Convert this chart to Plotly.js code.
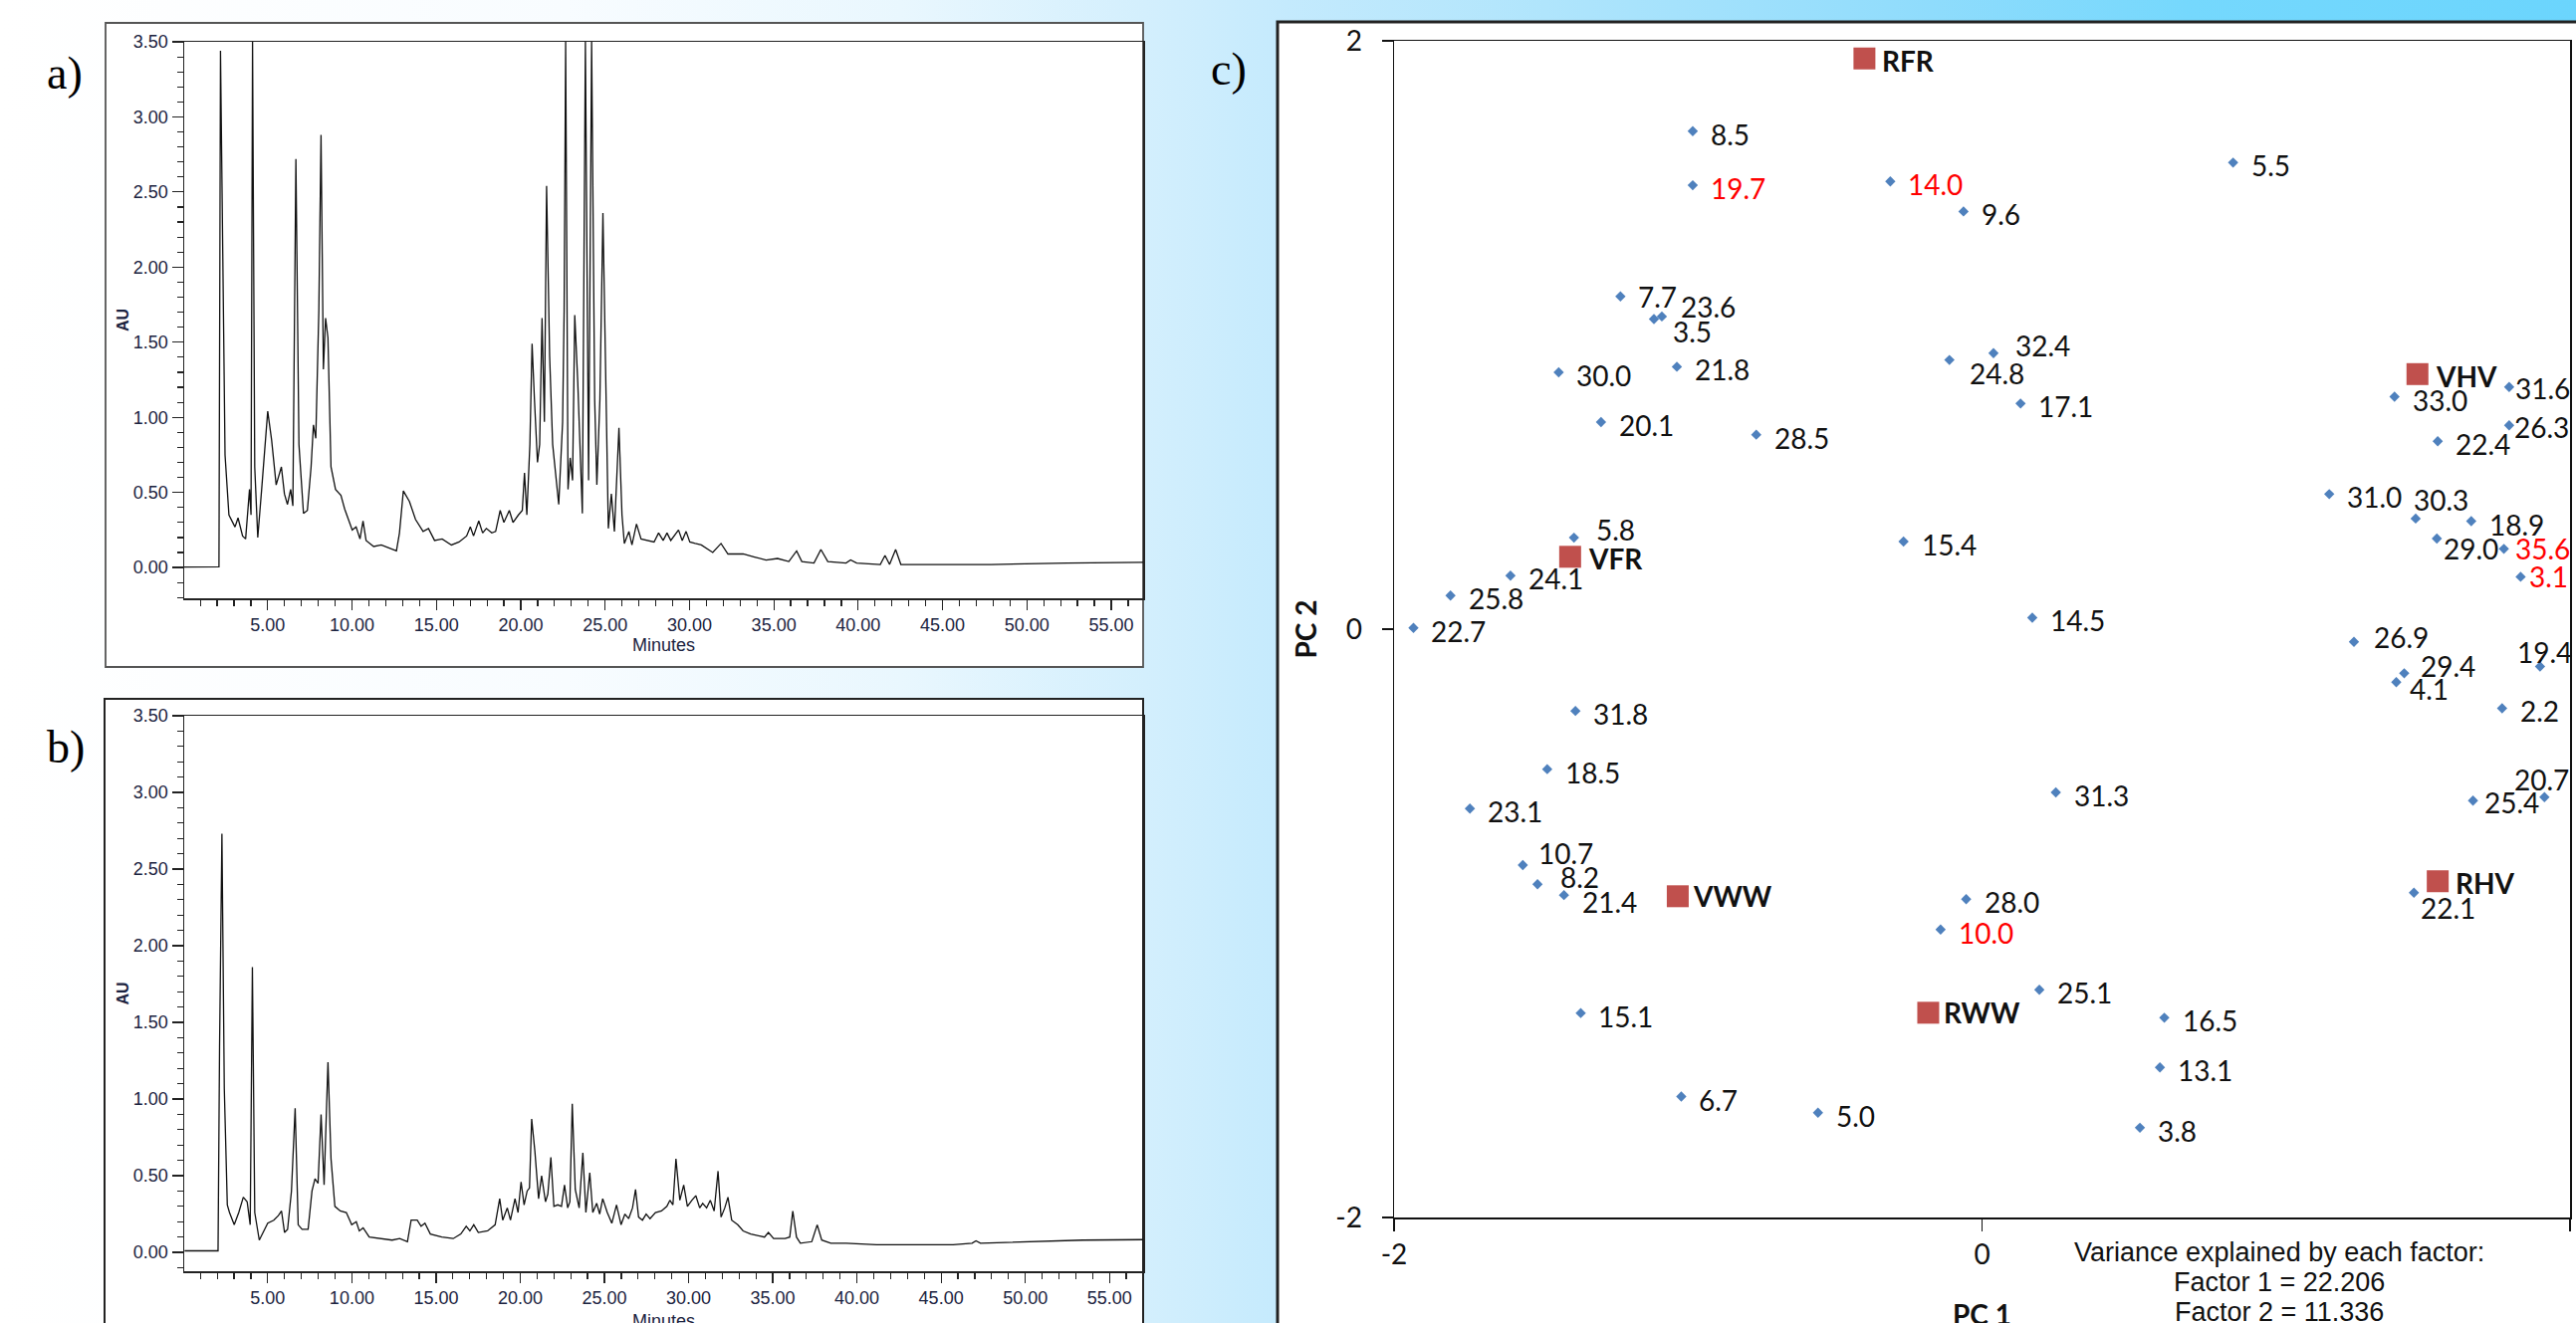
<!DOCTYPE html>
<html><head><meta charset="utf-8">
<script src="https://cdn.plot.ly/plotly-3.0.1.min.js"></script>
<style>
html,body{margin:0;padding:0;overflow:hidden;}
body{width:2587px;height:1329px;background:linear-gradient(to right,#ffffff 0%,#f8fcff 22%,#e9f7fe 35%,#d3effd 44.5%,#c4eafd 50%,#b0e5fc 60%,#8fdcfc 75%,#75d8fd 85%,#6bd5fd 100%);}
#chart{width:2587px;height:1329px;}
</style></head><body><div id="chart"></div><script>
// ---------- DATA ----------
// Chromatogram a) : retention time (min) and absorbance (AU)
const chromATime = [0.05,2.11,2.20,2.34,2.47,2.70,3.06,3.24,3.51,3.69,3.92,4.01,4.10,4.23,4.41,4.64,5.00,5.23,5.50,5.81,5.99,6.17,6.36,6.49,6.67,6.85,7.12,7.35,7.57,7.71,7.85,8.03,8.16,8.30,8.43,8.57,8.75,9.02,9.34,9.56,9.79,10.01,10.24,10.47,10.65,10.83,11.28,11.73,12.18,12.63,12.81,13.04,13.40,13.76,14.21,14.53,14.89,15.34,15.89,16.34,16.79,17.01,17.20,17.51,17.74,17.96,18.28,18.51,18.78,19.00,19.32,19.54,19.86,20.09,20.22,20.36,20.54,20.67,20.81,20.99,21.12,21.26,21.40,21.53,21.71,21.89,22.25,22.48,22.57,22.66,22.80,22.93,23.07,23.20,23.38,23.65,23.83,24.02,24.20,24.38,24.51,24.69,24.87,25.05,25.19,25.37,25.55,25.82,26.00,26.14,26.41,26.59,26.86,27.13,27.54,27.90,28.17,28.44,28.67,28.89,29.35,29.57,29.80,30.02,30.34,30.70,31.38,31.87,32.28,33.18,33.86,34.54,35.22,35.89,36.35,36.66,37.38,37.79,38.20,39.28,39.55,39.91,41.31,41.59,41.86,42.22,42.53,47.86,52.38,56.90];
const chromAAU = [0.003,0.005,3.44,1.86,0.75,0.35,0.27,0.33,0.21,0.19,0.52,0.35,3.5,0.67,0.20,0.52,1.04,0.85,0.55,0.67,0.49,0.42,0.52,0.41,2.72,0.82,0.36,0.38,0.67,0.95,0.86,1.71,2.88,1.32,1.66,1.53,0.67,0.52,0.48,0.39,0.32,0.25,0.27,0.19,0.31,0.18,0.14,0.15,0.13,0.11,0.23,0.51,0.44,0.32,0.24,0.26,0.18,0.19,0.15,0.17,0.21,0.27,0.21,0.31,0.23,0.26,0.23,0.24,0.38,0.30,0.38,0.30,0.35,0.38,0.63,0.35,0.82,1.49,1.12,0.70,0.82,1.66,0.97,2.54,1.41,0.82,0.42,0.97,1.71,3.5,0.52,0.73,0.58,1.68,1.23,0.36,3.5,0.58,3.5,1.12,0.55,1.12,2.36,1.12,0.26,0.49,0.24,0.93,0.35,0.16,0.24,0.15,0.29,0.19,0.18,0.17,0.23,0.18,0.23,0.18,0.25,0.18,0.24,0.17,0.16,0.15,0.10,0.16,0.09,0.09,0.07,0.05,0.06,0.04,0.11,0.04,0.03,0.12,0.04,0.03,0.05,0.03,0.02,0.08,0.02,0.12,0.02,0.02,0.03,0.035];

// Chromatogram b)
const chromBTime = [0.06,2.05,2.14,2.28,2.42,2.60,2.73,3.01,3.28,3.55,3.78,3.96,4.09,4.23,4.50,4.73,5.00,5.36,5.63,5.82,6.00,6.18,6.41,6.63,6.81,7.04,7.40,7.63,7.81,7.99,8.17,8.35,8.58,8.76,8.99,9.31,9.67,9.99,10.26,10.44,10.67,11.03,11.71,12.39,12.84,13.30,13.52,13.88,14.11,14.34,14.66,15.34,16.02,16.47,16.79,17.01,17.24,17.51,18.06,18.51,18.78,18.96,19.23,19.42,19.69,19.87,20.05,20.23,20.41,20.55,20.68,20.87,21.09,21.27,21.50,21.64,21.82,22.00,22.23,22.45,22.63,22.82,22.95,23.09,23.27,23.50,23.72,23.90,24.13,24.31,24.54,24.72,24.90,25.17,25.44,25.72,25.99,26.22,26.44,26.67,26.85,27.03,27.26,27.48,27.71,28.03,28.39,28.71,28.89,29.07,29.25,29.48,29.71,29.93,30.20,30.43,30.66,30.84,31.07,31.29,31.52,31.75,31.93,32.15,32.34,32.56,32.92,33.24,33.69,34.15,34.51,34.74,35.05,35.73,36.01,36.19,36.41,36.64,37.32,37.64,37.91,38.45,39.36,41.17,43.44,45.71,46.84,47.07,47.34,50.24,53.41,57.0];
const chromBAU = [0.01,0.01,1.34,2.73,1.07,0.31,0.26,0.18,0.26,0.36,0.33,0.18,1.86,0.26,0.08,0.13,0.19,0.21,0.24,0.27,0.13,0.15,0.40,0.94,0.18,0.15,0.15,0.40,0.48,0.45,0.90,0.44,1.24,0.61,0.30,0.27,0.26,0.18,0.20,0.14,0.16,0.10,0.09,0.08,0.09,0.07,0.21,0.21,0.17,0.19,0.12,0.10,0.09,0.12,0.17,0.14,0.18,0.13,0.14,0.18,0.35,0.21,0.29,0.21,0.35,0.26,0.46,0.31,0.40,0.42,0.87,0.66,0.35,0.50,0.33,0.38,0.62,0.30,0.31,0.30,0.44,0.29,0.33,0.97,0.41,0.29,0.65,0.26,0.52,0.26,0.32,0.25,0.35,0.26,0.19,0.31,0.18,0.25,0.22,0.29,0.41,0.23,0.21,0.25,0.22,0.26,0.27,0.30,0.34,0.31,0.61,0.34,0.44,0.30,0.34,0.37,0.29,0.32,0.29,0.34,0.27,0.53,0.23,0.29,0.36,0.21,0.18,0.14,0.12,0.11,0.10,0.13,0.09,0.09,0.10,0.27,0.10,0.06,0.07,0.18,0.08,0.06,0.06,0.05,0.05,0.05,0.06,0.075,0.06,0.07,0.08,0.083];

// PCA c) : samples (scores)
const sampleLabels = ['8.5','19.7','14.0','9.6','5.5','7.7','23.6','3.5','30.0','21.8','32.4','24.8','17.1','20.1','28.5','33.0','31.6','26.3','22.4','31.0','30.3','18.9','29.0','35.6','3.1','5.8','24.1','25.8','22.7','15.4','14.5','26.9','29.4','4.1','19.4','2.2','31.8','18.5','23.1','31.3','20.7','25.4','10.7','8.2','21.4','22.1','28.0','10.0','25.1','15.1','16.5','13.1','6.7','5.0','3.8'];
const samplePC1 = [-0.984,-0.984,-0.312,-0.063,0.854,-1.230,-1.089,-1.116,-1.440,-1.038,0.039,-0.111,0.131,-1.296,-0.768,1.403,1.793,1.793,1.550,1.181,1.475,1.664,1.547,1.775,1.832,-1.388,-1.604,-1.808,-1.934,-0.267,0.171,1.265,1.436,1.409,1.898,1.769,-1.383,-1.479,-1.742,0.251,1.913,1.670,-1.562,-1.512,-1.422,1.469,-0.054,-0.141,0.195,-1.365,0.620,0.605,-1.023,-0.558,0.537];
const samplePC2 = [1.693,1.509,1.522,1.420,1.586,1.131,1.063,1.054,0.873,0.892,0.938,0.915,0.767,0.704,0.661,0.790,0.823,0.693,0.639,0.459,0.376,0.367,0.308,0.273,0.178,0.311,0.182,0.114,0.004,0.298,0.039,-0.043,-0.150,-0.180,-0.127,-0.269,-0.278,-0.476,-0.610,-0.555,-0.571,-0.583,-0.802,-0.867,-0.904,-0.896,-0.918,-1.021,-1.226,-1.305,-1.321,-1.490,-1.589,-1.644,-1.695];
const highlightedSamples = ['19.7','14.0','35.6','3.1','10.0'];

// PCA c) : groups
const groupLabels = ['RFR','VHV','VFR','VWW','RHV','RWW'];
const groupPC1 = [-0.400,1.481,-1.401,-1.035,1.550,-0.183];
const groupPC2 = [1.940,0.867,0.246,-0.908,-0.857,-1.304];

const varianceTitle = 'Variance explained by each factor:';
const factorNames = ['Factor 1','Factor 2'];
const factorVariance = ['22.206','11.336'];

// ---------- STYLE / PLACEMENT ----------
const W = 2587, H = 1329;
const fx = p => p / W, fy = p => 1 - p / H;
const labelFont = 'Lato, "Open Sans", sans-serif';
const chromFont = '"Liberation Sans", Arial, sans-serif';
// label offsets [dx to left edge, dy of centre (down +)] in px
const defaultOffset = [17, 3];
const labelOffsets = {
  '7.7':[17,0],'23.6':[18,-10],'3.5':[18,12],'24.8':[19,13],'32.4':[21,-8],'30.3':[-3,-19],
  '29.0':[6,10],'26.9':[19,-5],'29.4':[16,-7],'4.1':[12,7],'19.4':[-24,-15],'20.7':[-31,-18],
  '10.7':[15,-12],'8.2':[22,-7],'21.4':[17,7],'22.1':[6,15],'5.8':[21,-8],'26.3':[4,2],
  '31.6':[5,1],'35.6':[10,0],'3.1':[8,0],'25.4':[10,2],
  'VWW':[14,0],'RWW':[15,0]
};

const chromTickFont = {family: chromFont, size: 18, color: '#1b2340'};
function chromX(anchor, range, withTitle) {
  const ax = {domain:[fx(185), fx(1148)], anchor: anchor, range: range,
    tick0: 0, dtick: 5, tickformat: '.2f', ticks: 'outside', ticklen: 10, tickwidth: 1.2, tickcolor: '#222',
    minor: {ticks: 'outside', ticklen: 6, dtick: 1, tickcolor: '#222', tickwidth: 1.2, showgrid: false},
    showline: true, linecolor: '#222', linewidth: 1.5, mirror: true, showgrid: false, zeroline: false,
    tickfont: chromTickFont, automargin: false};
  if (withTitle) ax.title = {text: 'Minutes', font: {family: chromFont, size: 18, color: '#1b2340'}, standoff: 4};
  return ax;
}
function chromY(domain, anchor, range) {
  return {domain: domain, anchor: anchor, range: range,
    tick0: 0, dtick: 0.5, tickformat: '.2f', ticks: 'outside', ticklen: 11, tickwidth: 1.2, tickcolor: '#222',
    minor: {ticks: 'outside', ticklen: 6, dtick: 0.1, tickcolor: '#222', tickwidth: 1.2, showgrid: false},
    showline: true, linecolor: '#222', linewidth: 1.5, mirror: true, showgrid: false, zeroline: false,
    tickfont: chromTickFont, automargin: false,
    title: {text: 'AU', font: {family: chromFont, size: 16, color: '#1b2340', weight: 'bold'}, standoff: 0}};
}

const traces = [
  {x: chromATime, y: chromAAU, xaxis: 'x', yaxis: 'y', mode: 'lines', line: {color: '#111', width: 1.3}, hoverinfo: 'skip', showlegend: false},
  {x: chromBTime, y: chromBAU, xaxis: 'x2', yaxis: 'y2', mode: 'lines', line: {color: '#111', width: 1.3}, hoverinfo: 'skip', showlegend: false},
  {x: samplePC1, y: samplePC2, xaxis: 'x3', yaxis: 'y3', mode: 'markers', text: sampleLabels,
   marker: {symbol: 'diamond', size: 8, color: '#4F81BD'}, showlegend: false},
  {x: groupPC1, y: groupPC2, xaxis: 'x3', yaxis: 'y3', mode: 'markers', text: groupLabels,
   marker: {symbol: 'square', size: 22, color: '#C0504D'}, showlegend: false}
];

const annotations = [];
sampleLabels.forEach((lab, i) => {
  const off = labelOffsets[lab] || defaultOffset;
  annotations.push({xref: 'x3', yref: 'y3', x: samplePC1[i], y: samplePC2[i], text: lab, showarrow: false,
    xanchor: 'left', yanchor: 'middle', xshift: off[0], yshift: -off[1], borderpad: 0,
    font: {family: labelFont, size: 28, color: highlightedSamples.includes(lab) ? '#ff0000' : '#111'}});
});
groupLabels.forEach((lab, i) => {
  const off = labelOffsets[lab] || [17, 2];
  annotations.push({xref: 'x3', yref: 'y3', x: groupPC1[i], y: groupPC2[i], text: lab, showarrow: false,
    xanchor: 'left', yanchor: 'middle', xshift: off[0], yshift: -off[1], borderpad: 0,
    font: {family: labelFont, size: 28, color: '#111', weight: 'bold'}});
});
// panel letters
[['a)', 65, 74], ['b)', 66, 750], ['c)', 1234, 69]].forEach(p => {
  annotations.push({xref: 'paper', yref: 'paper', x: fx(p[1]), y: fy(p[2]), text: p[0], showarrow: false,
    xanchor: 'center', yanchor: 'middle', font: {family: '"Liberation Serif", "Times New Roman", serif', size: 46, color: '#000'}});
});
// axis titles that sit at the bottom edge of the picture
annotations.push({xref: 'paper', yref: 'paper', x: fx(666), y: fy(1327), text: 'Minutes', showarrow: false,
  xanchor: 'center', yanchor: 'middle', font: {family: chromFont, size: 18, color: '#1b2340'}});
annotations.push({xref: 'paper', yref: 'paper', x: fx(1990), y: fy(1320), text: 'PC 1', showarrow: false,
  xanchor: 'center', yanchor: 'middle', font: {family: labelFont, size: 28, color: '#111', weight: 'bold'}});
// variance note
const noteLines = [varianceTitle, factorNames[0] + ' = ' + factorVariance[0], factorNames[1] + ' = ' + factorVariance[1]];
[1258, 1288, 1318].forEach((yy, i) => {
  annotations.push({xref: 'paper', yref: 'paper', x: fx(2289), y: fy(yy), text: noteLines[i], showarrow: false,
    xanchor: 'center', yanchor: 'middle', font: {family: chromFont, size: 27, color: '#111'}});
});

const pcaTickFont = {family: labelFont, size: 28, color: '#111'};
const layout = {
  width: W, height: H, margin: {l: 0, r: 0, t: 0, b: 0, pad: 0},
  paper_bgcolor: 'rgba(0,0,0,0)', plot_bgcolor: '#ffffff', showlegend: false,
  xaxis: chromX('y', [0.05, 56.89], true),
  yaxis: chromY([fy(601), fy(42)], 'x', [-0.205, 3.5001]),
  xaxis2: chromX('y2', [0.04, 57.0], false),
  yaxis2: chromY([fy(1277), fy(719)], 'x2', [-0.123, 3.5001]),
  xaxis3: {domain: [fx(1400), fx(2581)], anchor: 'y3', range: [-2, 2], tickvals: [-2, 0, 2], ticktext: ['-2', '0', '2'],
    ticks: 'outside', ticklen: 12, tickwidth: 1.5, tickcolor: '#111', ticklabelstandoff: 0,
    showline: true, linecolor: '#111', linewidth: 1.5, mirror: true, showgrid: false, zeroline: false,
    tickfont: pcaTickFont, automargin: false},
  yaxis3: {domain: [fy(1223), fy(41)], anchor: 'x3', range: [-2, 2], tickvals: [-2, 0, 2], ticktext: ['-2', '0', '2'],
    ticks: 'outside', ticklen: 11, tickwidth: 1.5, tickcolor: '#111', ticklabelstandoff: 14,
    showline: true, linecolor: '#111', linewidth: 1.5, mirror: true, showgrid: false, zeroline: false,
    tickfont: pcaTickFont, automargin: false,
    title: {text: 'PC 2', font: {family: labelFont, size: 28, color: '#111', weight: 'bold'}, standoff: 10}},
  shapes: [
    {type: 'rect', xref: 'paper', yref: 'paper', x0: fx(106), x1: fx(1148), y0: fy(670), y1: fy(23),
     fillcolor: '#ffffff', line: {color: '#555', width: 1.8}, layer: 'below'},
    {type: 'rect', xref: 'paper', yref: 'paper', x0: fx(105), x1: fx(1148), y0: fy(1360), y1: fy(702),
     fillcolor: '#ffffff', line: {color: '#222', width: 2}, layer: 'below'},
    {type: 'rect', xref: 'paper', yref: 'paper', x0: fx(1283), x1: fx(2620), y0: fy(1360), y1: fy(22),
     fillcolor: '#ffffff', line: {color: '#222', width: 3}, layer: 'below'}
  ],
  annotations: annotations
};

Plotly.newPlot('chart', traces, layout, {displayModeBar: false, staticPlot: true});
</script></body></html>
